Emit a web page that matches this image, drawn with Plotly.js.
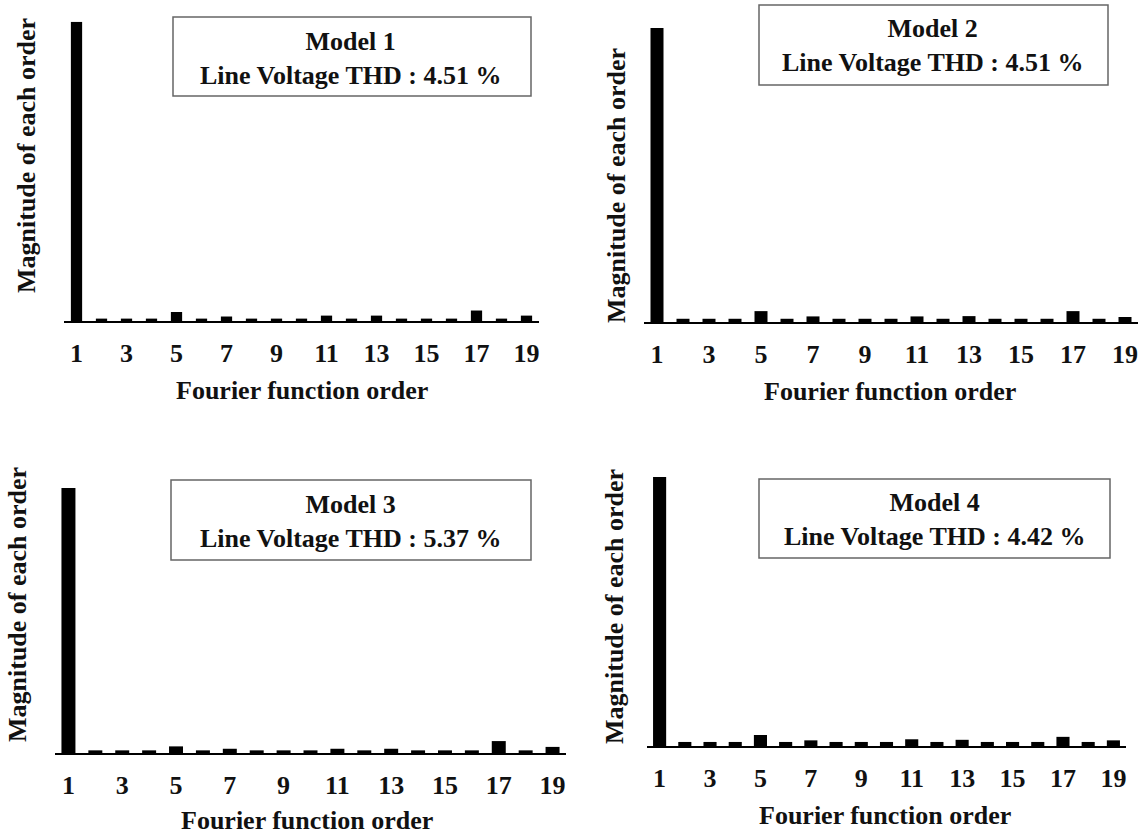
<!DOCTYPE html>
<html>
<head>
<meta charset="utf-8">
<script src="https://cdn.plot.ly/plotly-3.0.1.min.js"></script>
<style>html,body{margin:0;padding:0;background:#fff;}#chart{width:1141px;height:834px;}</style>
</head>
<body>
<div id="chart"></div>
<script>
// Fourier order (harmonic number)
const orders = [1,2,3,4,5,6,7,8,9,10,11,12,13,14,15,16,17,18,19];
const tickVals = [1,3,5,7,9,11,13,15,17,19];
const tickText = ["1","3","5","7","9","11","13","15","17","19"];

// Magnitude of each order (normalized, fundamental = 100)
const model1 = [100,0.8,0.8,0.8,3.0,0.8,1.5,0.8,0.8,0.8,1.8,0.8,1.8,0.8,0.8,0.8,3.5,0.8,1.8];
const model2 = [100,1.1,1.1,1.1,3.7,1.1,1.9,1.1,1.1,1.1,1.9,1.1,2.0,1.1,1.1,1.1,3.7,1.1,1.7];
const model3 = [100,1.0,1.0,1.0,2.5,1.0,1.6,1.0,1.0,1.0,1.6,1.0,1.6,1.0,1.0,1.0,4.5,1.0,2.3];
const model4 = [100,1.5,1.5,1.5,4.1,1.5,2.1,1.5,1.5,1.5,2.5,1.5,2.3,1.5,1.5,1.5,3.4,1.5,2.1];

const modelNames = ["Model 1","Model 2","Model 3","Model 4"];
const thdValues = ["4.51","4.51","5.37","4.42"];
const xTitle = "Fourier function order";
const yTitle = "Magnitude of each order";

const W = 1141, H = 834;
const FONT = 'Liberation Serif';
const FS = 26;
const TXT = '#111';

// panel geometry in pixels
const panels = [
  {data: model1, x0: 64,  x1: 539,  yTop: 21.7, yBot: 321, bw: 0.45,
   yt: [27, 156], xt: [302, 390], box: [173, 531, 17, 96], txt: [350, 58]},
  {data: model2, x0: 644, x1: 1138, yTop: 28, yBot: 322, bw: 0.5,
   yt: [617, 186], xt: [890, 392], box: [759, 1108, 5, 85], txt: [932, 46]},
  {data: model3, x0: 55,  x1: 566,  yTop: 488, yBot: 753, bw: 0.52,
   yt: [17, 605], xt: [307, 820], box: [171, 531, 480, 560], txt: [350, 521]},
  {data: model4, x0: 647, x1: 1126, yTop: 477, yBot: 746, bw: 0.52,
   yt: [614, 607], xt: [885, 815], box: [759, 1110, 479, 558], txt: [934, 519]}
];

const traces = [];
const layout = {
  width: W, height: H,
  margin: {l: 0, r: 0, t: 0, b: 0},
  paper_bgcolor: '#fff', plot_bgcolor: '#fff',
  showlegend: false,
  font: {family: FONT, size: FS, color: TXT},
  shapes: [], annotations: []
};

panels.forEach((p, i) => {
  const n = i + 1;
  const sfx = (n === 1 ? '' : String(n));
  layout['xaxis' + sfx] = {
    domain: [p.x0 / W, p.x1 / W], anchor: 'y' + sfx,
    range: [0.5, 19.5], showgrid: false, zeroline: false,
    showline: true, linecolor: '#000', linewidth: 1.5,
    ticks: '', tickmode: 'array', tickvals: tickVals, ticktext: tickText,
    ticklabelstandoff: 8,
    tickfont: {family: FONT, size: FS, weight: 'bold', color: TXT}
  };
  layout['yaxis' + sfx] = {
    domain: [1 - p.yBot / H, 1 - p.yTop / H], anchor: 'x' + sfx,
    range: [0, 100], showgrid: false, zeroline: false, showline: false,
    showticklabels: false, ticks: ''
  };
  traces.push({
    type: 'bar', x: orders, y: p.data, width: p.bw,
    marker: {color: '#000', line: {width: 0}},
    xaxis: 'x' + sfx, yaxis: 'y' + sfx, hoverinfo: 'skip'
  });
  layout.annotations.push({
    xref: 'paper', yref: 'paper', x: p.yt[0] / W, y: 1 - p.yt[1] / H,
    text: yTitle, textangle: -90, showarrow: false,
    xanchor: 'center', yanchor: 'middle',
    font: {family: FONT, size: FS, weight: 'bold', color: TXT}
  });
  layout.annotations.push({
    xref: 'paper', yref: 'paper', x: p.xt[0] / W, y: 1 - p.xt[1] / H,
    text: xTitle, showarrow: false, xanchor: 'center', yanchor: 'middle',
    font: {family: FONT, size: FS, weight: 'bold', color: TXT}
  });
  layout.shapes.push({
    type: 'rect', xref: 'paper', yref: 'paper',
    x0: p.box[0] / W, x1: p.box[1] / W, y0: 1 - p.box[3] / H, y1: 1 - p.box[2] / H,
    line: {color: '#666', width: 1.5}, fillcolor: 'rgba(0,0,0,0)'
  });
  layout.annotations.push({
    xref: 'paper', yref: 'paper', x: p.txt[0] / W, y: 1 - p.txt[1] / H,
    text: modelNames[i] + '<br>Line Voltage THD : ' + thdValues[i] + ' %',
    showarrow: false, xanchor: 'center', yanchor: 'middle', align: 'center',
    font: {family: FONT, size: FS, weight: 'bold', color: TXT}
  });
});

Plotly.newPlot('chart', traces, layout, {displayModeBar: false, staticPlot: true});
</script>
</body>
</html>
